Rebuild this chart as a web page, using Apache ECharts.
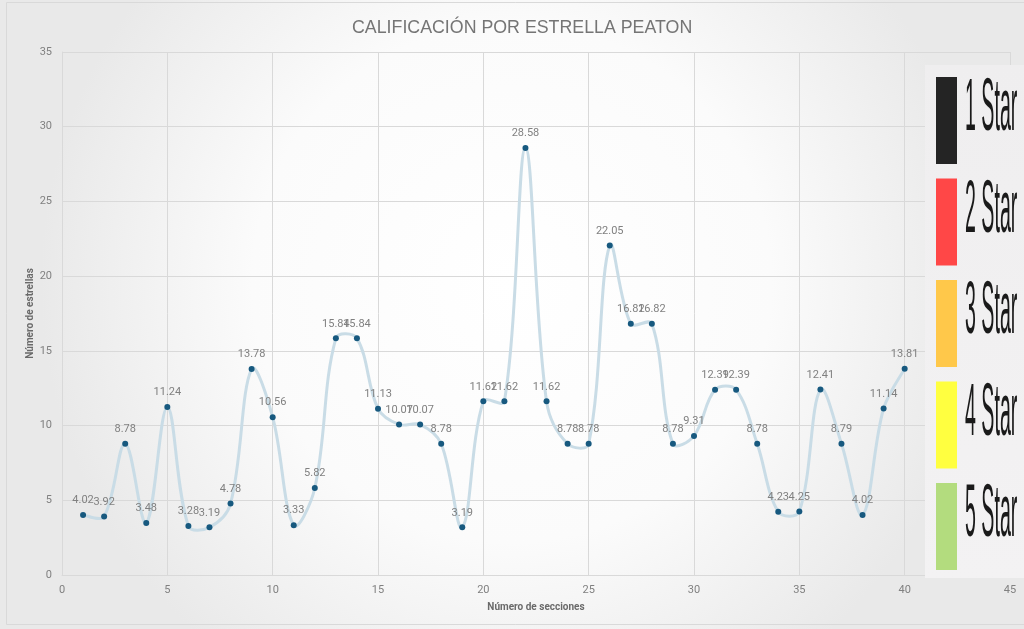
<!DOCTYPE html>
<html>
<head>
<meta charset="utf-8">
<script src="https://cdn.jsdelivr.net/npm/echarts@6/dist/echarts.min.js"></script>
<style>
  html, body { margin: 0; padding: 0; background: #ffffff; }
  #chart { width: 1024px; height: 629px; }
</style>
</head>
<body>
<div id="chart"></div>
<script>
// Section numbers (x) and star rating per section (y)
const sections = [1,2,3,4,5,6,7,8,9,10,11,12,13,14,15,16,17,18,19,20,
                  21,22,23,24,25,26,27,28,29,30,31,32,33,34,35,36,37,38,39,40];
const ratings = [4.02,3.92,8.78,3.48,11.24,3.28,3.19,4.78,13.78,10.56,
                 3.33,5.82,15.84,15.84,11.13,10.07,10.07,8.78,3.19,11.62,
                 11.62,28.58,11.62,8.78,8.78,22.05,16.82,16.82,8.78,9.31,
                 12.39,12.39,8.78,4.23,4.25,12.41,8.79,4.02,11.14,13.81];

// Star scale key
const starLabels = ['1 Star','2 Star','3 Star','4 Star','5 Star'];
const starColors = ['#242424','#ff4747','#ffc84a','#ffff40','#b3dc7e'];

const points = sections.map((s, i) => [s, ratings[i]]);

const chart = echarts.init(document.getElementById('chart'), null, { renderer: 'canvas' });

// Star key panel on the right side
const keyGraphics = [{
  type: 'rect', z: 100,
  shape: { x: 925, y: 65, width: 99, height: 513 },
  style: { fill: new echarts.graphic.LinearGradient(0, 0, 0, 1, [
    { offset: 0, color: '#efeeef' }, { offset: 1, color: '#f3f2f3' }]) }
}];
starLabels.forEach((lab, i) => {
  const top = 77 + i * 101.5;
  keyGraphics.push({
    type: 'rect', z: 101,
    shape: { x: 936, y: top, width: 21, height: 87 },
    style: { fill: starColors[i] }
  });
  keyGraphics.push({
    type: 'text', z: 101,
    x: 965, y: top - 4,
    scaleX: 0.265, scaleY: 1,
    style: {
      text: lab,
      font: '74px "Liberation Sans", sans-serif',
      fill: '#1a1a1a',
      textAlign: 'left',
      textVerticalAlign: 'top',
      shadowBlur: 2,
      shadowColor: 'rgba(0,0,0,0.5)'
    }
  });
});

// Outer chart border
keyGraphics.unshift({
  type: 'rect', z: -1, silent: true,
  shape: { x: 6.5, y: 2.5, width: 1030, height: 622 },
  style: { fill: 'none', stroke: '#d9d9d9', lineWidth: 1 }
});

// Smoothed curve: one cubic segment per pair of neighbouring points.
// Tangents follow the neighbours and are scaled by pixel segment lengths,
// so short flat steps bulge only slightly.
function renderSegment(params, api) {
  const i = params.dataIndex;
  if (i >= points.length - 1) return null;
  const p0 = api.coord(points[Math.max(i - 1, 0)]);
  const p1 = api.coord(points[i]);
  const p2 = api.coord(points[i + 1]);
  const p3 = api.coord(points[Math.min(i + 2, points.length - 1)]);
  const dist = (a, b) => Math.hypot(b[0] - a[0], b[1] - a[1]);
  const d01 = dist(p0, p1), d12 = dist(p1, p2), d23 = dist(p2, p3);
  const t = 0.36;
  const f1 = d01 > 0 ? t * d12 / (d01 + d12) : t / 2;
  const f2 = d23 > 0 ? t * d12 / (d12 + d23) : t / 2;
  return {
    type: 'bezierCurve',
    shape: {
      x1: p1[0], y1: p1[1],
      x2: p2[0], y2: p2[1],
      cpx1: p1[0] + (p2[0] - p0[0]) * f1,
      cpy1: p1[1] + (p2[1] - p0[1]) * f1,
      cpx2: p2[0] - (p3[0] - p1[0]) * f2,
      cpy2: p2[1] - (p3[1] - p1[1]) * f2
    },
    style: { stroke: '#c9dce6', lineWidth: 3, fill: null }
  };
}

const option = {
  backgroundColor: new echarts.graphic.RadialGradient(0.5, 0.45, 0.75, [
    { offset: 0, color: '#ffffff' },
    { offset: 0.55, color: '#fbfbfb' },
    { offset: 1, color: '#e9e9e9' }
  ]),
  animation: false,
  title: {
    text: 'CALIFICACIÓN POR ESTRELLA PEATON',
    left: 347,
    top: 14,
    textStyle: {
      fontFamily: '"Liberation Sans", Arial, sans-serif',
      fontSize: 17.8,
      fontWeight: 'normal',
      color: '#757575'
    }
  },
  grid: { left: 62, top: 52, width: 948, height: 523, containLabel: false },
  xAxis: {
    type: 'value',
    min: 0, max: 45, interval: 5,
    name: 'Número de secciones',
    nameLocation: 'middle',
    nameGap: 27,
    nameTextStyle: { fontFamily: 'Roboto, sans-serif', fontSize: 10, fontWeight: 'bold', color: '#6a6a6a' },
    axisLine: { show: true, lineStyle: { color: '#d9d9d9' } },
    axisTick: { show: false },
    axisLabel: { color: '#808080', fontSize: 11, fontFamily: 'Roboto, sans-serif', margin: 10 },
    splitLine: { show: true, lineStyle: { color: '#d9d9d9', width: 1 } }
  },
  yAxis: {
    type: 'value',
    min: 0, max: 35, interval: 5,
    name: 'Número de estrellas',
    nameLocation: 'middle',
    nameGap: 27,
    nameMoveOverlap: false,
    nameTextStyle: { fontFamily: 'Roboto, sans-serif', fontSize: 10, fontWeight: 'bold', color: '#6a6a6a' },
    axisLine: { show: true, lineStyle: { color: '#d9d9d9' } },
    axisTick: { show: false },
    axisLabel: { color: '#808080', fontSize: 11, fontFamily: 'Roboto, sans-serif', margin: 10 },
    splitLine: { show: true, lineStyle: { color: '#d9d9d9', width: 1 } }
  },
  series: [{
    type: 'custom',
    renderItem: renderSegment,
    data: points,
    silent: true,
    z: 2
  }, {
    type: 'scatter',
    data: points,
    symbol: 'circle',
    symbolSize: 6,
    itemStyle: { color: '#17597f', opacity: 1 },
    label: {
      show: true,
      position: 'top',
      distance: 6,
      color: '#808080',
      fontSize: 11,
      fontFamily: 'Roboto, sans-serif',
      formatter: p => p.value[1].toFixed(2)
    },
    z: 3
  }],
  graphic: keyGraphics
};

chart.setOption(option);
</script>
</body>
</html>
